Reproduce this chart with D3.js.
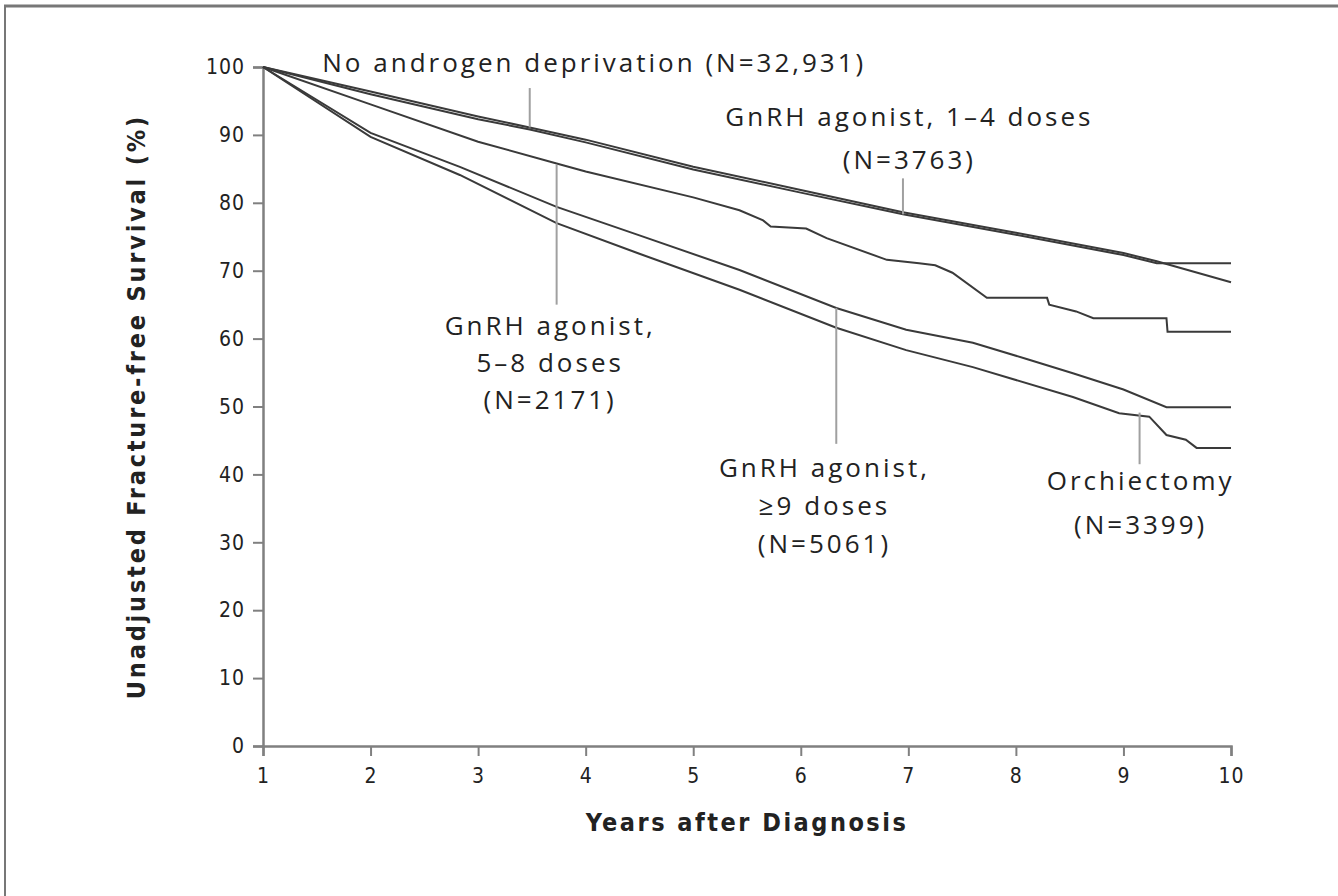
<!DOCTYPE html>
<html>
<head>
<meta charset="utf-8">
<script src="https://cdn.jsdelivr.net/npm/d3@7"></script>
<style>
  body { margin: 0; background: #fff; }
  svg { display: block; }
  text { font-family: "Open Sans", "DejaVu Sans", sans-serif; fill: #222; }
</style>
</head>
<body>
<svg></svg>
<script>
 // data (years after diagnosis, % fracture-free)
 let noAdtYears = [1, 2, 3, 3.48, 4, 5, 6, 6.95, 8, 9, 9.31, 10];
 let noAdtValues = [100, 96.4, 92.7, 91.1, 89.3, 85.3, 81.9, 78.6, 75.6, 72.6, 71.4, 68.3];

 let gnrh14Years = [1, 2, 3, 3.48, 4, 5, 6, 6.95, 8, 9, 9.31, 10];
 let gnrh14Values = [100, 96.0, 92.3, 90.8, 88.9, 84.9, 81.5, 78.3, 75.3, 72.3, 71.1, 71.1];

 let gnrh58Years = [1, 2, 3, 3.73, 4, 5, 5.43, 5.65, 5.72, 6.05, 6.24, 6.8, 7.1, 7.25, 7.41, 7.73, 8.29, 8.31, 8.56, 8.72, 9.40, 9.41, 10];
 let gnrh58Values = [100, 94.5, 89.0, 85.8, 84.6, 80.8, 78.9, 77.4, 76.5, 76.2, 74.8, 71.6, 71.1, 70.8, 69.7, 66.0, 66.0, 65.0, 64.0, 63.0, 63.0, 61.0, 61.0];

 let gnrh9Years = [1, 2, 2.83, 3.73, 4.5, 5.43, 6.33, 6.98, 7.6, 8.1, 8.53, 9.0, 9.4, 10];
 let gnrh9Values = [100, 90.3, 85.3, 79.4, 75.2, 70.1, 64.5, 61.3, 59.4, 57.0, 54.9, 52.5, 49.9, 49.9];

 let orchYears = [1, 2, 2.83, 3.73, 4.5, 5.43, 6.33, 6.98, 7.6, 8.53, 8.96, 9.24, 9.4, 9.58, 9.68, 10];
 let orchValues = [100, 89.7, 84.1, 77.0, 72.5, 67.2, 61.6, 58.3, 55.8, 51.4, 49.0, 48.5, 45.8, 45.1, 43.9, 43.9];

 let xTicks = [1, 2, 3, 4, 5, 6, 7, 8, 9, 10];
 let yTicks = [0, 10, 20, 30, 40, 50, 60, 70, 80, 90, 100];

 // annotation labels: text lines, centre (year), first baseline (%), pointer from/to (%)
 let labelLines = [
   ['No androgen deprivation (N=32,931)'],
   ['GnRH agonist, 1\u20134 doses', '(N=3763)'],
   ['GnRH agonist,', '5\u20138 doses', '(N=2171)'],
   ['GnRH agonist,', '\u22659 doses', '(N=5061)'],
   ['Orchiectomy', '(N=3399)']
 ];
 let labelYears = [4.08, 7.01, 3.67, 6.22, 9.16];
 let labelTops = [99.3, 91.3, 60.6, 39.6, 37.7];
 let labelSpacing = [0, 43, 37, 38, 44];
 let pointerYears = [3.48, 6.95, 3.73, 6.33, 9.15];
 let pointerFrom = [91.1, 78.3, 85.6, 64.5, 49.1];
 let pointerTo = [96.9, 83.6, 65.0, 44.5, 41.5];

 let series = [
   { years: noAdtYears, values: noAdtValues },
   { years: gnrh14Years, values: gnrh14Values },
   { years: gnrh58Years, values: gnrh58Values },
   { years: gnrh9Years, values: gnrh9Values },
   { years: orchYears, values: orchValues }
 ];

 let width = 1338;
 let height = 896;

 let svg = d3.select('svg')
             .attr('width', width)
             .attr('height', height);

 let xScale = d3.scaleLinear().domain([1, 10]).range([263, 1231]);
 let yScale = d3.scaleLinear().domain([0, 100]).range([746, 67]);

 // frame (only top and left edges are visible in the figure)
 svg.append('line')
    .attr('x1', 4).attr('x2', width).attr('y1', 6).attr('y2', 6)
    .attr('stroke', '#777').attr('stroke-width', 3);
 svg.append('line')
    .attr('x1', 5).attr('x2', 5).attr('y1', 5).attr('y2', height)
    .attr('stroke', '#777').attr('stroke-width', 2);

 let drawAxes = () => {
   let yAxis = d3.axisLeft(yScale).tickValues(yTicks).tickSizeOuter(0).tickSize(10).tickPadding(8);
   let gy = svg.append('g')
               .attr('id', 'y-axis')
               .attr('transform', `translate(${xScale(1)}, 0)`)
               .call(yAxis);

   let xAxis = d3.axisBottom(xScale).tickValues(xTicks).tickSizeOuter(0).tickSize(10).tickPadding(12);
   let gx = svg.append('g')
               .attr('id', 'x-axis')
               .attr('transform', `translate(0, ${yScale(0)})`)
               .call(xAxis);

   [gx, gy].forEach(g => {
     g.select('.domain').attr('stroke', '#808080').attr('stroke-width', 2.5);
     g.selectAll('.tick line').attr('stroke', '#808080').attr('stroke-width', 2);
     g.selectAll('.tick text')
      .style('font-family', '"DejaVu Sans Condensed", "DejaVu Sans", sans-serif')
      .style('font-size', '21px')
      .style('letter-spacing', '1px')
      .attr('fill', '#222');
   });

   svg.append('text')
      .attr('x', xScale(5.5))
      .attr('y', 831)
      .attr('text-anchor', 'middle')
      .style('font-size', '25px')
      .style('font-weight', 'bold')
      .style('letter-spacing', '2.5px')
      .style('font-family', '"DejaVu Sans Condensed", "DejaVu Sans", sans-serif')
      .text('Years after Diagnosis');

   svg.append('text')
      .attr('transform', `translate(145, ${yScale(50)}) rotate(-90)`)
      .attr('text-anchor', 'middle')
      .style('font-size', '25px')
      .style('font-weight', 'bold')
      .style('letter-spacing', '2.8px')
      .style('font-family', '"DejaVu Sans Condensed", "DejaVu Sans", sans-serif')
      .text('Unadjusted Fracture-free Survival (%)');
 };

 let drawLines = () => {
   let line = d3.line()
                .x(d => xScale(d[0]))
                .y(d => yScale(d[1]));

   svg.selectAll('path.curve')
      .data(series)
      .enter()
      .append('path')
      .attr('class', 'curve')
      .attr('fill', 'none')
      .attr('stroke', '#3a3a3a')
      .attr('stroke-width', 2)
      .attr('d', s => line(s.years.map((y, i) => [y, s.values[i]])));
 };

 let drawLabels = () => {
   labelLines.forEach((lines, i) => {
     svg.append('line')
        .attr('x1', xScale(pointerYears[i]))
        .attr('x2', xScale(pointerYears[i]))
        .attr('y1', yScale(pointerFrom[i]))
        .attr('y2', yScale(pointerTo[i]))
        .attr('stroke', '#a0a0a0')
        .attr('stroke-width', 2);

     let t = svg.append('text')
                .attr('text-anchor', 'middle')
                .style('font-size', '26px')
                .style('letter-spacing', '3px');
     lines.forEach((l, j) => {
       t.append('tspan')
        .attr('x', xScale(labelYears[i]))
        .attr('y', yScale(labelTops[i]) + j * labelSpacing[i])
        .text(l);
     });
   });
 };

 drawAxes();
 drawLines();
 drawLabels();
</script>
</body>
</html>
